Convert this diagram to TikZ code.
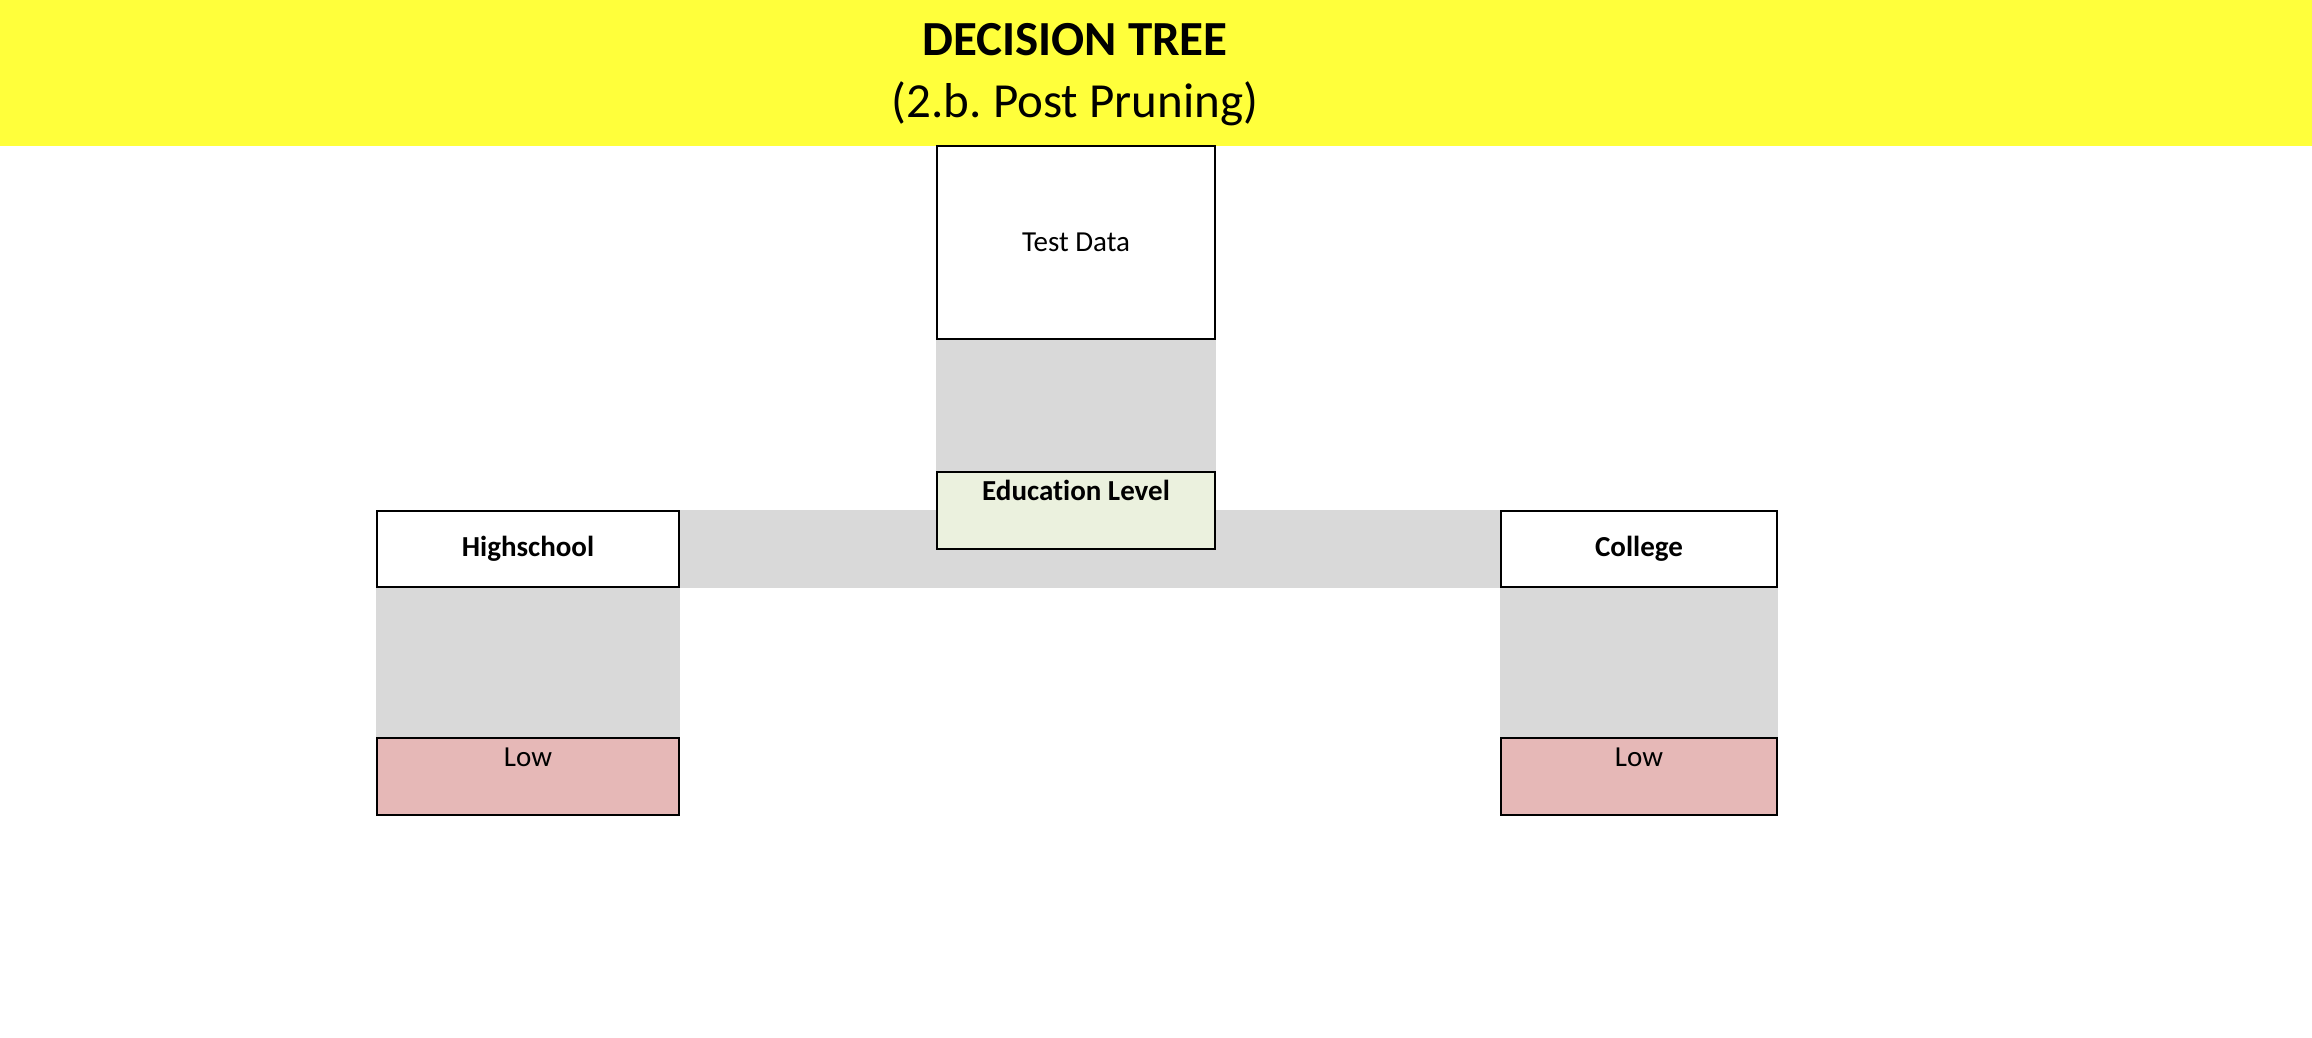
\documentclass[tikz,border=0pt]{standalone}
\usepackage{fontspec}
\setmainfont{Carlito}[Ligatures=NoCommon]
\usepackage{xcolor}
\usetikzlibrary{backgrounds}
\definecolor{bandyellow}{RGB}{255,255,59}
\definecolor{linkgrey}{RGB}{217,217,217}
\definecolor{leafred}{RGB}{230,184,183}
\definecolor{rootgreen}{RGB}{235,241,222}
\frenchspacing

\begin{document}
\begin{tikzpicture}[x=0.5pt,y=-0.5pt,
	box/.style={draw,line width=0.7pt,inner sep=0pt,fill=white,font=\fontsize{14.5}{17}\selectfont},
	toptext/.style={box,text height=14pt,text depth=24.5pt},
	titletext/.style={anchor=base,font=\fontsize{24.5}{29}\selectfont}]
	\useasboundingbox (0,0) rectangle (2312,1038);
	\fill[bandyellow] (0,0) rectangle (2312,146);
	\node[titletext] at (1075,56) (title) {\textbf{DECISION TREE}};
	\node[titletext] at (1075,118) (subtitle) {(2.b. Post Pruning)};

	\node[box,minimum width=139pt,minimum height=96.5pt] at (1076,242.5) (td) {Test Data};
	\node[toptext,fill=rootgreen,minimum width=139pt] at (1076,510.5) (edu) {\textbf{Education Level}};
	\node[box,minimum width=151pt,minimum height=38pt] at (528,549) (hs) {\textbf{Highschool}};
	\node[box,minimum width=138pt,minimum height=38pt] at (1639,549) (col) {\textbf{College}};
	\node[toptext,fill=leafred,minimum width=151pt] at (528,776.5) (hslow) {Low};
	\node[toptext,fill=leafred,minimum width=138pt] at (1639,776.5) (collow) {Low};

	\begin{pgfonlayer}{background}
		\fill[linkgrey] (td.south west) rectangle (edu.north east);
		\fill[linkgrey] (hs.north east) rectangle (col.south west);
		\fill[linkgrey] (hs.south west) rectangle (hslow.north east);
		\fill[linkgrey] (col.south west) rectangle (collow.north east);
	\end{pgfonlayer}
\end{tikzpicture}
\end{document}
